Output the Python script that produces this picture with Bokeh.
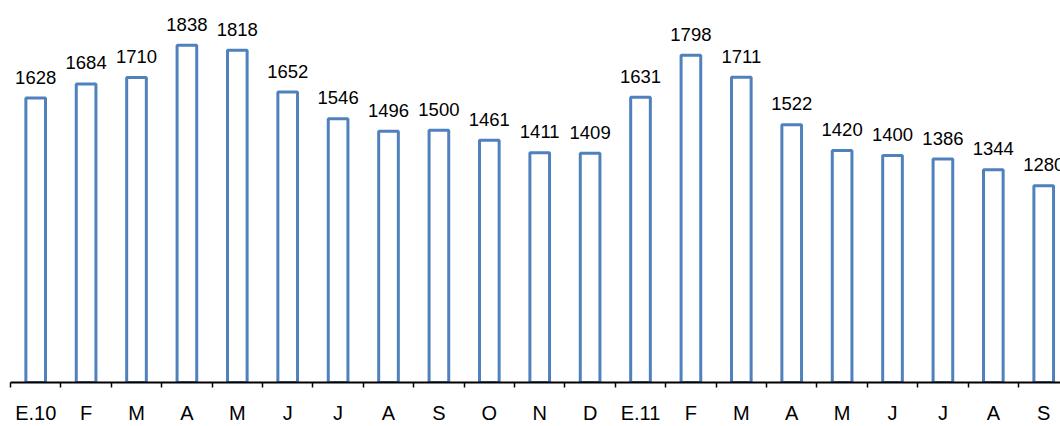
from bokeh.plotting import figure
from bokeh.models import ColumnDataSource, FixedTicker, Range1d
from bokeh.core.properties import value
from bokeh.embed import file_html
from bokeh.resources import INLINE

months = ["E.10", "F", "M", "A", "M", "J", "J", "A", "S", "O", "N", "D",
          "E.11", "F", "M", "A", "M", "J", "J", "A", "S"]
values = [1628, 1684, 1710, 1838, 1818, 1652, 1546, 1496, 1500, 1461, 1411, 1409,
          1631, 1798, 1711, 1522, 1420, 1400, 1386, 1344, 1280]

idx = list(range(len(months)))
src = ColumnDataSource(dict(x=idx, top=values, label=[str(v) for v in values]))

BASE = 500
p = figure(width=1060, height=426, output_backend="svg", toolbar_location=None,
           x_range=Range1d(-0.5, 20.333), y_range=Range1d(BASE, 2015),
           y_axis_location=None, min_border_left=10, min_border_right=0,
           min_border_top=0, outline_line_color=None)
p.grid.visible = False
p.background_fill_color = "white"
p.border_fill_color = "white"

p.vbar(x="x", top="top", bottom=BASE, width=0.39, source=src,
       fill_color="white", line_color="#4F81BD", line_width=3)

p.text(x="x", y="top", text="label", source=src, y_offset=-21,
       text_align="center", text_baseline="alphabetic",
       text_font=value("Liberation Sans"), text_font_size="18.5px",
       text_color="black")

ax = p.xaxis[0]
ax.ticker = FixedTicker(ticks=idx, minor_ticks=[i - 0.5 for i in range(len(months) + 1)])
ax.major_label_overrides = {i: m for i, m in zip(idx, months)}
ax.major_tick_out = 0
ax.major_tick_in = 0
ax.minor_tick_out = 5
ax.minor_tick_in = 0
ax.minor_tick_line_color = "black"
ax.minor_tick_line_width = 1.5
ax.axis_line_color = "black"
ax.axis_line_width = 2
ax.major_label_standoff = 14
ax.major_label_text_font = "Liberation Sans"
ax.major_label_text_font_size = "20px"
ax.major_label_text_color = "black"

open("out.html", "w").write(file_html(p, INLINE))
